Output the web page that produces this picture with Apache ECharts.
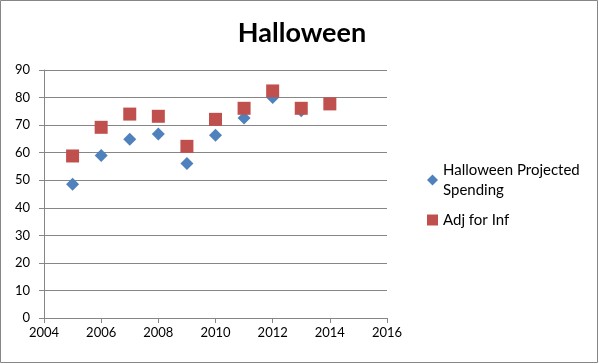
<!DOCTYPE html>
<html><head><meta charset="utf-8">
<script src="https://cdn.jsdelivr.net/npm/echarts@6/dist/echarts.min.js"></script>
<style>html,body{margin:0;padding:0;background:#fff}#c{width:599px;height:364px}</style>
</head><body><div id="c"></div>
<script>
var years = [2005,2006,2007,2008,2009,2010,2011,2012,2013,2014];
var projected = [48.5,59.0,64.9,66.8,56.1,66.3,72.6,80.0,75.2,null];
var adjusted = [58.8,69.2,74.0,73.2,62.3,72.1,76.1,82.4,76.1,77.7];
var seriesNames = ['Halloween Projected Spending','Adj for Inf'];
var font = 'Lato, "Liberation Sans", sans-serif';
function pairs(v){var o=[];for(var i=0;i<years.length;i++){if(v[i]!=null)o.push([years[i],v[i]]);}return o;}
var chart = echarts.init(document.getElementById('c'));
chart.setOption({
  animation:false,
  title:{text:'Halloween',left:297,top:15,textAlign:'center',textStyle:{fontFamily:font,fontSize:27,fontWeight:'bold',color:'#000'}},
  graphic:[{type:'rect',shape:{x:0.5,y:0.5,width:597,height:362},style:{fill:null,stroke:'#868686',lineWidth:1}}],
  grid:{left:44,right:212,top:70,bottom:46},
  xAxis:{type:'value',min:2004,max:2016,interval:2,
    axisLine:{show:true,lineStyle:{color:'#868686'}},
    axisTick:{show:true,length:5,lineStyle:{color:'#868686'}},
    splitLine:{show:false},
    axisLabel:{fontFamily:font,fontSize:13,color:'#000',margin:8,formatter:function(v){return String(v);}}},
  yAxis:{type:'value',min:0,max:90,interval:10,
    axisLine:{show:true,lineStyle:{color:'#868686'}},
    axisTick:{show:true,length:5,lineStyle:{color:'#868686'}},
    splitLine:{show:true,lineStyle:{color:'#868686'}},
    axisLabel:{fontFamily:font,fontSize:13,color:'#000',margin:14}},
  legend:{orient:'vertical',left:427,top:160,itemGap:10,itemWidth:11,itemHeight:11,padding:0,
    textStyle:{fontFamily:font,fontSize:15,color:'#000',lineHeight:20},
    formatter:function(n){return n==='Halloween Projected Spending'?'Halloween Projected\nSpending':n;},
    data:[{name:seriesNames[0],icon:'diamond'},{name:seriesNames[1],icon:'rect'}]},
  series:[
    {name:seriesNames[0],type:'scatter',symbol:'diamond',symbolSize:13,itemStyle:{color:'#4F81BD',opacity:1},data:pairs(projected)},
    {name:seriesNames[1],type:'scatter',symbol:'rect',symbolSize:13,itemStyle:{color:'#C0504D',opacity:1},data:pairs(adjusted)}
  ]
});
</script></body></html>
